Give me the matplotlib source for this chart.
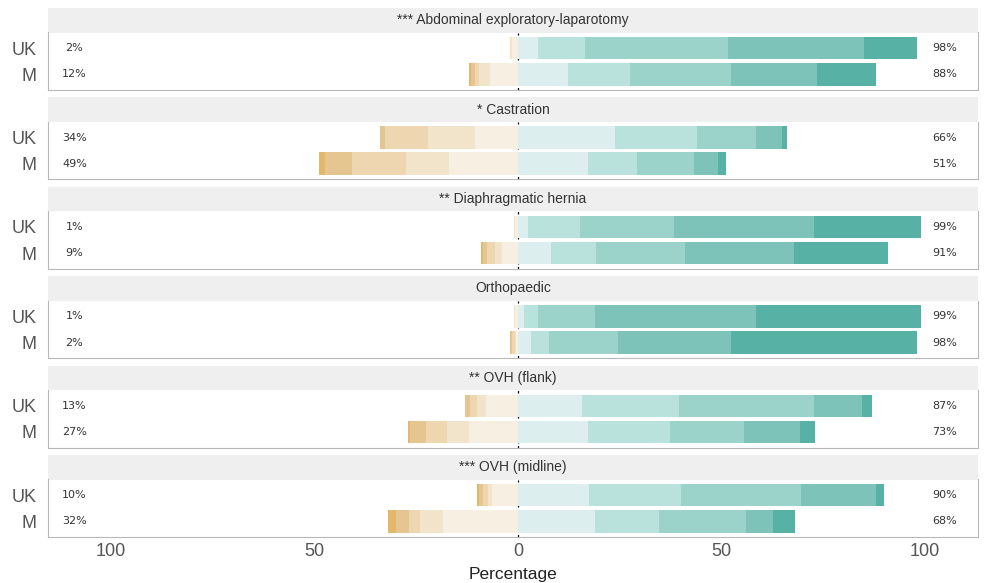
import matplotlib
matplotlib.use("Agg")
import matplotlib.pyplot as plt
import numpy as np

plt.rcParams['font.family'] = ['Liberation Sans', 'DejaVu Sans']

# facets (top to bottom) and the two groups inside each facet
procedures = ["*** Abdominal exploratory-laparotomy", "* Castration", "** Diaphragmatic hernia",
              "Orthopaedic", "** OVH (flank)", "*** OVH (midline)"]
groups = ["UK", "M"]

# negative levels 1..5 (1 = most negative), per procedure, per group [UK, M]
neg_uk = [[0.0, 0.0, 0.0, 0.5, 1.5],
          [0.0, 1.3, 10.5, 11.6, 10.6],
          [0.0, 0.0, 0.0, 0.3, 0.7],
          [0.0, 0.0, 0.0, 0.3, 0.7],
          [0.0, 1.2, 1.6, 2.2, 8.0],
          [0.4, 1.0, 1.2, 1.0, 6.4]]
neg_m = [[0.4, 1.0, 1.0, 2.6, 7.0],
         [1.5, 6.8, 13.2, 10.6, 16.9],
         [0.4, 1.0, 2.0, 1.6, 4.0],
         [0.0, 0.6, 0.6, 0.4, 0.4],
         [0.5, 3.8, 5.3, 5.4, 12.0],
         [1.9, 3.3, 2.8, 5.6, 18.4]]
# positive levels 6..10 (10 = most positive)
pos_uk = [[5.0, 11.4, 35.2, 33.3, 13.1],
          [23.8, 20.2, 14.4, 6.5, 1.1],
          [2.4, 12.8, 23.1, 34.4, 26.3],
          [1.5, 3.5, 13.9, 39.6, 40.5],
          [15.8, 23.7, 33.1, 11.8, 2.6],
          [17.5, 22.6, 29.3, 18.5, 2.1]]
pos_m = [[12.3, 15.1, 24.8, 21.3, 14.5],
         [17.2, 12.0, 14.0, 5.8, 2.0],
         [8.2, 11.0, 21.9, 26.6, 23.3],
         [3.2, 4.5, 16.8, 27.7, 45.8],
         [17.2, 20.2, 18.2, 13.7, 3.7],
         [18.8, 15.7, 21.6, 6.6, 5.3]]

neg_colors = ["#E3B86A", "#E6C690", "#EDD6B0", "#F2E4CA", "#F7EFE1"]
pos_colors = ["#DCEFEE", "#B9E2DC", "#9BD3CB", "#7DC3B9", "#57B1A5"]

W, H = 990, 583
fig = plt.figure(figsize=(W / 100, H / 100), dpi=100)


def px_box(x0, y0, x1, y1):
    # pixel box (top-left origin) -> figure fraction rect
    return [x0 / W, 1 - y1 / H, (x1 - x0) / W, (y1 - y0) / H]


left_px, right_px = 48, 978
xlim = (-115.5, 113.0)
block = 89.4
strip_h = 24.5
panel_h = 57.5

for i, title in enumerate(procedures):
    top = 8 + i * block
    sax = fig.add_axes(px_box(left_px, top, right_px, top + strip_h))
    sax.set_facecolor("#EFEFEF")
    sax.set_xticks([])
    sax.set_yticks([])
    for sp in sax.spines.values():
        sp.set_visible(False)
    sax.text(0.5, 0.5, title, ha="center", va="center", fontsize=10,
             color="#333333", transform=sax.transAxes)

    ax = fig.add_axes(px_box(left_px, top + strip_h, right_px, top + strip_h + panel_h))
    ax.set_xlim(*xlim)
    ax.set_ylim(-0.6, 1.6)
    ax.axvline(0, color="black", lw=0.9, ls=(0, (2, 2)), zorder=0)

    rows = [(1, neg_uk[i], pos_uk[i]), (0, neg_m[i], pos_m[i])]
    for y, neg, pos in rows:
        # negative side: innermost level next to zero, stacking outwards
        start = 0.0
        for k in range(4, -1, -1):
            ax.barh(y, -neg[k], left=start, height=0.86, color=neg_colors[k],
                    linewidth=0, zorder=2)
            start -= neg[k]
        start = 0.0
        for k in range(5):
            ax.barh(y, pos[k], left=start, height=0.86, color=pos_colors[k],
                    linewidth=0, zorder=2)
            start += pos[k]
        ax.text(-109, y, f"{round(sum(neg))}%", ha="center", va="center",
                fontsize=8, color="#333333", family=["DejaVu Sans"])
        ax.text(104.7, y, f"{round(sum(pos))}%", ha="center", va="center",
                fontsize=8, color="#333333", family=["DejaVu Sans"])

    ax.set_yticks([1, 0])
    ax.set_yticklabels(groups, fontsize=13, color="#555555")
    ax.tick_params(axis="y", length=0, pad=8)
    for sp in ax.spines.values():
        sp.set_color("#B8B8B8")
        sp.set_linewidth(0.8)
    ax.spines["top"].set_visible(False)

    if i == len(procedures) - 1:
        ax.set_xticks([-100, -50, 0, 50, 100])
        ax.set_xticklabels(["100", "50", "0", "50", "100"], fontsize=13, color="#555555")
        ax.tick_params(axis="x", length=0, pad=4)
        ax.set_xlabel("Percentage", fontsize=12.5, color="#222222", labelpad=5)
    else:
        ax.set_xticks([])

fig.savefig("out.png", dpi=100)
